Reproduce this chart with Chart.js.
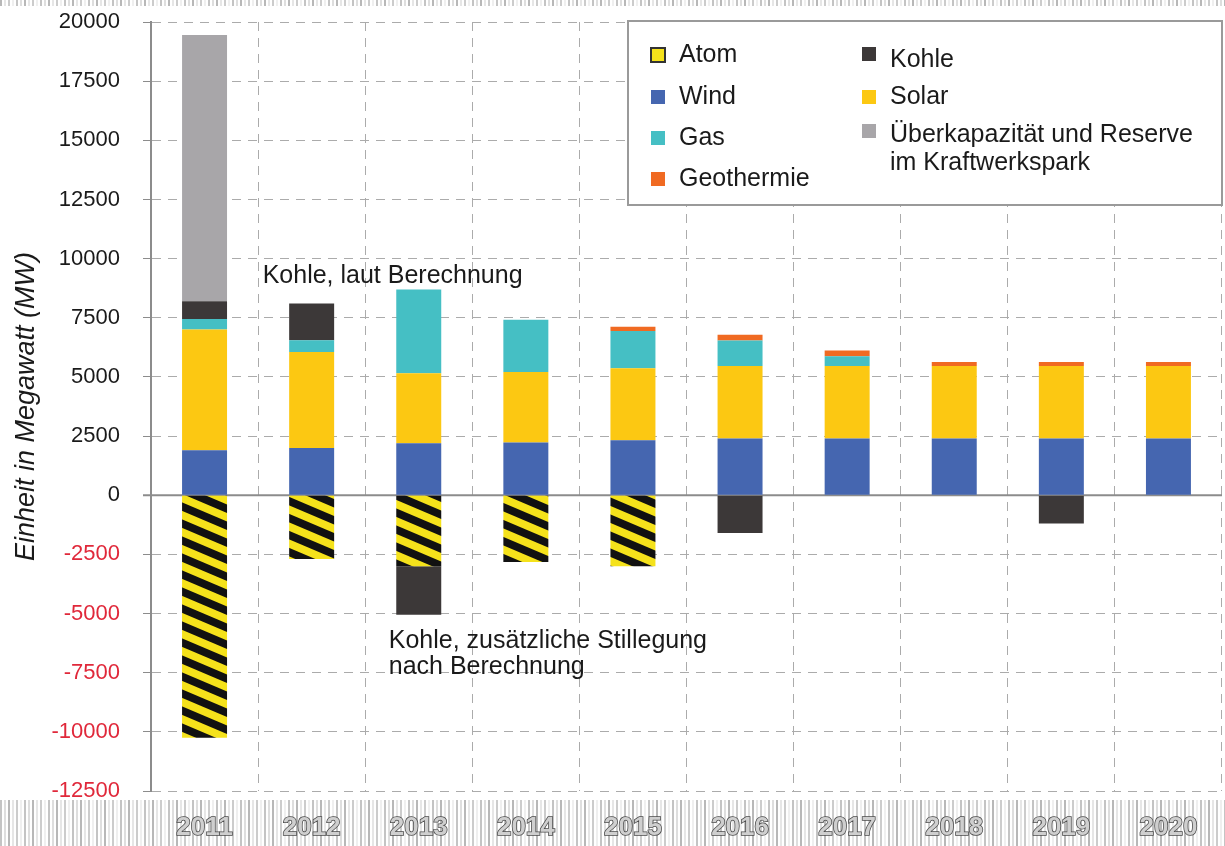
<!DOCTYPE html>
<html>
<head>
<meta charset="utf-8">
<script src="https://cdn.jsdelivr.net/npm/chart.js@4.4.1/dist/chart.umd.min.js"></script>
<style>
  html, body { margin: 0; padding: 0; background: #fff; }
  #wrap { width: 1225px; height: 846px; position: relative; }
</style>
</head>
<body>
<div id="wrap"><canvas id="bar-chart" width="1225" height="846"></canvas></div>
<script>
// categories
const years = ['2011', '2012', '2013', '2014', '2015', '2016', '2017', '2018', '2019', '2020'];

// series values in MW (stacked segments)
const atom       = [-10250, -2700, -3000, -2820, -3000, 0, 0, 0, 0, 0];
const wind       = [1900, 2000, 2200, 2230, 2320, 2400, 2400, 2400, 2400, 2400];
const solar      = [5100, 4050, 2950, 2980, 3050, 3060, 3060, 3060, 3060, 3060];
const gas        = [450, 500, 3550, 2210, 1570, 1080, 410, 0, 0, 0];
const geothermie = [0, 0, 0, 0, 180, 240, 250, 170, 170, 170];
const kohle      = [750, 1550, -2050, 0, 0, -1600, 0, 0, -1200, 0];
const reserve    = [11250, 0, 0, 0, 0, 0, 0, 0, 0, 0];

// y axis ticks
const yMin = -12500;
const yMax = 20000;
const yStep = 2500;

// yellow / black hazard stripes for "Atom"
function makeStripes() {
  const c = document.createElement('canvas');
  c.width = 40; c.height = 17;
  const g = c.getContext('2d');
  g.fillStyle = '#f5e21b';
  g.fillRect(0, 0, 40, 17);
  g.fillStyle = '#111';
  for (let k = -2; k <= 1; k++) {
    g.beginPath();
    g.moveTo(0, k * 17);
    g.lineTo(40, k * 17 + 17);
    g.lineTo(40, k * 17 + 25.5);
    g.lineTo(0, k * 17 + 8.5);
    g.closePath();
    g.fill();
  }
  return g.createPattern(c, 'repeat');
}
const stripes = makeStripes();

const FONT = "'Liberation Sans', Arial, sans-serif";

// greyish barcode-like strips at top and bottom
const stripPlugin = {
  id: 'strips',
  beforeDraw(chart) {
    const ctx = chart.ctx;
    const shades = ['#c4c4c4', '#dedede', '#b8b8b8', '#e6e6e6', '#cccccc', '#efefef'];
    ctx.save();
    let i = 0;
    for (let x = 0; x < chart.width; x += 4) {
      ctx.fillStyle = shades[i % shades.length];
      ctx.fillRect(x, 800, 2, 46);
      ctx.fillStyle = shades[(i + 2) % shades.length];
      ctx.fillRect(x, 0, 2, 6);
      i++;
    }
    ctx.restore();
  }
};

// solid zero line
const zeroLine = {
  id: 'zeroLine',
  beforeDatasetsDraw(chart) {
    const {ctx, chartArea, scales} = chart;
    const y0 = scales.y.getPixelForValue(0);
    ctx.save();
    ctx.strokeStyle = '#8c8c8c';
    ctx.lineWidth = 2;
    ctx.beginPath();
    ctx.moveTo(chartArea.left - 8, y0);
    ctx.lineTo(chartArea.right, y0);
    ctx.stroke();
    ctx.restore();
  }
};

// legend box + notes
const legendBox = {
  id: 'legendBox',
  afterDraw(chart) {
    const ctx = chart.ctx;
    const {scales} = chart;
    ctx.save();
    ctx.fillStyle = '#fff';
    ctx.fillRect(628, 21, 594, 184);
    ctx.strokeStyle = '#9a9a9a';
    ctx.lineWidth = 2;
    ctx.strokeRect(628, 21, 594, 184);

    ctx.font = '25px ' + FONT;
    ctx.textBaseline = 'middle';
    ctx.textAlign = 'left';
    const items = [
      {c: '#f5e21b', t: ['Atom'], x: 651, y: 55, border: true},
      {c: '#4566b0', t: ['Wind'], x: 651, y: 97},
      {c: '#45bfc4', t: ['Gas'], x: 651, y: 138},
      {c: '#f06a22', t: ['Geothermie'], x: 651, y: 179},
      {c: '#3c3838', t: ['Kohle'], x: 862, y: 60, sq: 54},
      {c: '#fcc812', t: ['Solar'], x: 862, y: 97},
      {c: '#a8a6a9', t: ['Überkapazität und Reserve', 'im Kraftwerkspark'], x: 862, y: 135, sq: 131}
    ];
    items.forEach(it => {
      const sy = (it.sq || it.y) - 7;
      ctx.fillStyle = it.c;
      ctx.fillRect(it.x, sy, 14, 14);
      if (it.border) {
        ctx.strokeStyle = '#333';
        ctx.lineWidth = 2;
        ctx.strokeRect(it.x, sy, 14, 14);
      }
      ctx.fillStyle = '#1a1a1a';
      it.t.forEach((line, j) => ctx.fillText(line, it.x + 28, it.y + j * 28));
    });

    // notes
    ctx.font = '25px ' + FONT;
    ctx.fillStyle = '#1a1a1a';
    const x12 = scales.x.getPixelForValue(1);
    const x13 = scales.x.getPixelForValue(2);
    ctx.fillText('Kohle, laut Berechnung', x12 - 49, scales.y.getPixelForValue(9250));
    ctx.fillText('Kohle, zusätzliche Stillegung', x13 - 30, scales.y.getPixelForValue(-6150));
    ctx.fillText('nach Berechnung', x13 - 30, scales.y.getPixelForValue(-7250));
    ctx.restore();
  }
};

function ds(label, values, color) {
  return {
    label: label,
    data: values,
    backgroundColor: color,
    borderWidth: 0,
    barPercentage: 0.42,
    categoryPercentage: 1
  };
}

window.createBarChart = function(){
  new Chart(
    document.getElementById('bar-chart'),
    {
    type: 'bar',
    data: {
      labels: years,
      datasets: [
        ds('Atom', atom, stripes),
        ds('Wind', wind, '#4566b0'),
        ds('Solar', solar, '#fcc812'),
        ds('Gas', gas, '#45bfc4'),
        ds('Geothermie', geothermie, '#f06a22'),
        ds('Kohle', kohle, '#3c3838'),
        ds('Überkapazität und Reserve im Kraftwerkspark', reserve, '#a8a6a9')
      ]
    },
    options: {
      responsive: false,
      animation: false,
      layout: { padding: { top: 22, right: 3, left: 0, bottom: 0 } },
      plugins: {
        legend: { display: false },
        tooltip: { enabled: false }
      },
      scales: {
        x: {
          stacked: true,
          border: { display: false, dash: [9, 7] },
          grid: {
            offset: true,
            color: '#ababab',
            lineWidth: 1,
            drawTicks: false
          },
          ticks: {
            padding: 21,
            color: '#cfcfcf',
            textStrokeColor: '#4a4a4a',
            textStrokeWidth: 1.5,
            font: { family: FONT, size: 26, weight: 'bold' }
          },
          afterFit(scale) { scale.height = 55; }
        },
        y: {
          stacked: true,
          min: yMin,
          max: yMax,
          border: { display: true, color: '#8c8c8c', width: 2, dash: [9, 7] },
          grid: {
            color: '#ababab',
            lineWidth: 1,
            drawTicks: true,
            tickLength: 8,
            tickColor: '#8c8c8c'
          },
          ticks: {
            stepSize: yStep,
            padding: 23,
            callback: v => String(v),
            color: ctx => ctx.tick && ctx.tick.value < 0 ? '#e0283a' : '#1a1a1a',
            font: { family: FONT, size: 22 }
          },
          title: {
            display: true,
            text: 'Einheit in Megawatt (MW)',
            color: '#1a1a1a',
            padding: { top: 10, bottom: 0 },
            font: { family: FONT, size: 27, style: 'italic' }
          },
          afterFit(scale) {
            scale.width = 151;
            scale.paddingTop = 13;
            scale.paddingBottom = 13;
          }
        }
      }
    },
    plugins: [stripPlugin, zeroLine, legendBox]
    });
};
createBarChart();
</script>
</body>
</html>
